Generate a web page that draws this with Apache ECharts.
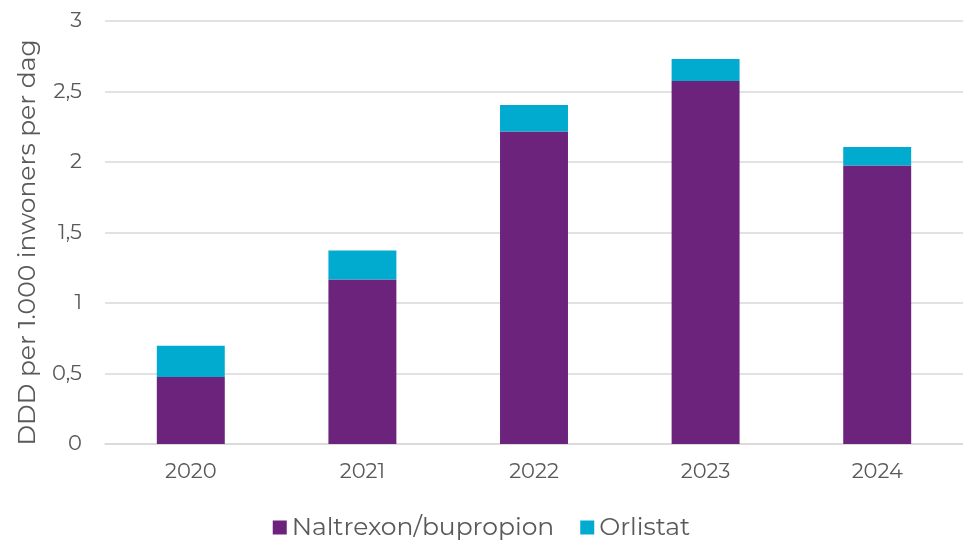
<!DOCTYPE html>
<html>
<head>
<meta charset="utf-8">
<script src="https://cdn.jsdelivr.net/npm/echarts@6/dist/echarts.min.js"></script>
<style>html,body{margin:0;padding:0;background:#fff}#c{width:963px;height:546px}</style>
</head>
<body>
<div id="c"></div>
<script>
const categories = ['2020', '2021', '2022', '2023', '2024'];
const naltrexon = [0.475, 1.167, 2.217, 2.574, 1.976];
const orlistat = [0.222, 0.206, 0.187, 0.156, 0.130];
const seriesNames = ['Naltrexon/bupropion', 'Orlistat'];

const chart = echarts.init(document.getElementById('c'));
const font = 'Montserrat, "Open Sans", Lato, sans-serif';
chart.setOption({
  animation: false,
  textStyle: { fontFamily: font },
  grid: { left: 105, right: 0, top: 21, bottom: 102 },
  legend: {
    bottom: 1,
    left: 'center',
    itemWidth: 14, itemHeight: 14, itemGap: 26,
    icon: 'rect',
    textStyle: { fontSize: 25, color: '#595959', fontFamily: font },
    data: seriesNames
  },
  xAxis: {
    type: 'category',
    data: categories,
    axisLine: { lineStyle: { color: '#d9d9d9', width: 1.5 } },
    axisTick: { show: false },
    axisLabel: { fontSize: 21, color: '#595959', margin: 17, fontFamily: font }
  },
  yAxis: {
    type: 'value',
    min: 0, max: 3, interval: 0.5,
    name: 'DDD per 1.000 inwoners per dag',
    nameLocation: 'middle',
    nameGap: 65,
    nameTextStyle: { fontSize: 25, color: '#595959', fontFamily: font, padding: [0, 20, 0, 0] },
    axisLabel: {
      fontSize: 21, color: '#595959', margin: 23, fontFamily: font,
      formatter: v => String(v).replace('.', ',')
    },
    splitLine: { lineStyle: { color: '#d9d9d9', width: 1.5 } }
  },
  series: [
    { name: seriesNames[0], type: 'bar', stack: 't', data: naltrexon, barWidth: '39.6%', itemStyle: { color: '#6B237C' } },
    { name: seriesNames[1], type: 'bar', stack: 't', data: orlistat, barWidth: '39.6%', itemStyle: { color: '#00ABCF' } }
  ]
});
</script>
</body>
</html>
